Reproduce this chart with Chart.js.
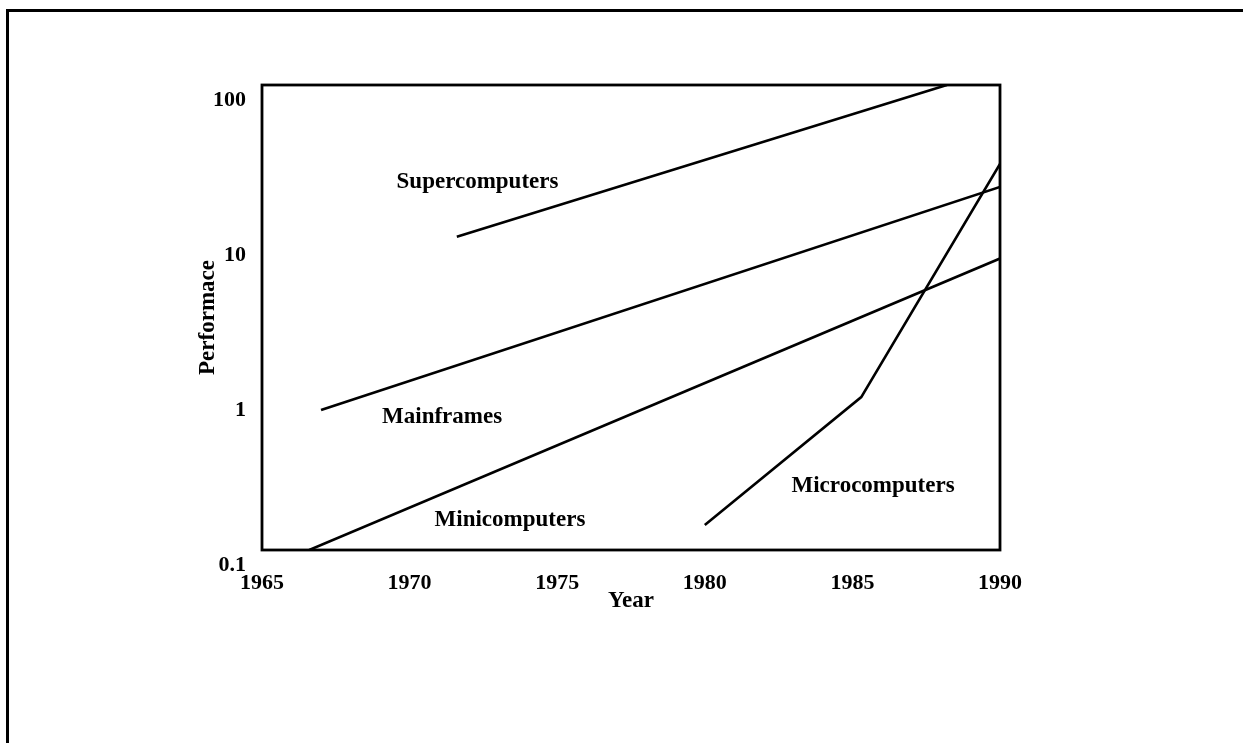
<!DOCTYPE html>
<html>
<head>
<meta charset="utf-8">
<script src="https://cdn.jsdelivr.net/npm/chart.js@4.4.1/dist/chart.umd.min.js"></script>
<style>
  html, body { margin: 0; padding: 0; background: #fff; }
  #wrap { position: relative; width: 1248px; height: 743px; }
  #frame { position: absolute; left: 6px; top: 9px; width: 1234px; height: 740px;
           border-top: 3px solid #000; border-left: 3px solid #000; }
  canvas { position: absolute; left: 0; top: 0; }
</style>
</head>
<body>
<div id="wrap">
  <div id="frame"></div>
  <canvas id="chartPerf" width="1248" height="743"></canvas>
</div>
<script>
// Valores (ano, desempenho)
const superYears = [1971.6, 1988.2];
const superPerf = [10.5, 100];
const mainYears = [1967.0, 1990];
const mainPerf = [0.8, 22];
const miniYears = [1966.6, 1990];
const miniPerf = [0.1, 7.6];
const microYears = [1980.0, 1985.3, 1990];
const microPerf = [0.145, 0.97, 31];

// Rótulos de eixo
const xTickValues = [1965, 1970, 1975, 1980, 1985, 1990];
const yTickValues = [0.1, 1, 10, 100];
const yTickLabels = ['0.1', '1', '10', '100'];

// Nomes das séries e onde ficam escritos (ano, desempenho)
const seriesNames = ['Supercomputers', 'Mainframes', 'Minicomputers', 'Microcomputers'];
const nameYears = [1972.3, 1971.1, 1973.4, 1985.7];
const namePerf = [23.7, 0.72, 0.156, 0.26];

function pts(xs, ys) {
  return xs.map((x, i) => ({ x: x, y: ys[i] }));
}

const serif = 'Liberation Serif, Times New Roman, serif';

const boxPlugin = {
  id: 'box',
  afterDatasetsDraw(chart) {
    const { ctx, chartArea: a, scales } = chart;
    ctx.save();
    ctx.strokeStyle = '#000';
    ctx.lineWidth = 2.8;
    ctx.strokeRect(a.left, a.top, a.right - a.left, a.bottom - a.top);
    ctx.fillStyle = '#000';
    ctx.font = 'bold 23px ' + serif;
    ctx.textAlign = 'center';
    ctx.textBaseline = 'middle';
    seriesNames.forEach((n, i) => {
      ctx.fillText(n, scales.x.getPixelForValue(nameYears[i]), scales.y.getPixelForValue(namePerf[i]));
    });
    ctx.restore();
  }
};

document.addEventListener('DOMContentLoaded', function() {
  const lineStyle = { borderColor: '#000', borderWidth: 2.6, pointRadius: 0, tension: 0, fill: false };
  const tickFont = { family: serif, size: 22, weight: 'bold' };
  const titleFont = { family: serif, size: 23, weight: 'bold' };
  new Chart(document.getElementById('chartPerf'), {
    type: 'line',
    data: {
      datasets: [
        Object.assign({ label: seriesNames[0], data: pts(superYears, superPerf) }, lineStyle),
        Object.assign({ label: seriesNames[1], data: pts(mainYears, mainPerf) }, lineStyle),
        Object.assign({ label: seriesNames[2], data: pts(miniYears, miniPerf) }, lineStyle),
        Object.assign({ label: seriesNames[3], data: pts(microYears, microPerf) }, lineStyle)
      ]
    },
    options: {
      responsive: false,
      animation: false,
      layout: { padding: { left: 190, top: 85, right: 248, bottom: 124 } },
      plugins: { legend: { display: false }, tooltip: { enabled: false } },
      scales: {
        x: {
          type: 'linear',
          min: 1965,
          max: 1990,
          afterFit(scale) { scale.height = 69; },
          afterBuildTicks(scale) { scale.ticks = xTickValues.map(v => ({ value: v })); },
          grid: { display: false, drawTicks: false },
          border: { display: false },
          ticks: { color: '#000', padding: 20, maxRotation: 0, font: tickFont,
                   callback: v => String(v) },
          title: { display: true, text: 'Year', color: '#000', padding: 4, font: titleFont }
        },
        y: {
          type: 'logarithmic',
          min: 0.1,
          max: 100,
          afterFit(scale) { scale.width = 72; },
          afterBuildTicks(scale) { scale.ticks = yTickValues.map(v => ({ value: v })); },
          grid: { display: false, drawTicks: false },
          border: { display: false },
          ticks: { color: '#000', padding: 16, labelOffset: 15, font: tickFont,
                   callback: v => yTickLabels[yTickValues.indexOf(v)] },
          title: { display: true, text: 'Performace', color: '#000', padding: 4, font: titleFont }
        }
      }
    },
    plugins: [boxPlugin]
  });
});
</script>
</body>
</html>
